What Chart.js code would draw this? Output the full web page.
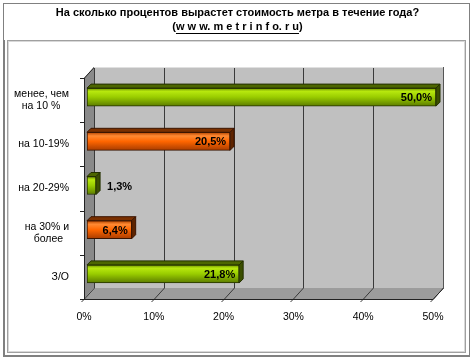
<!DOCTYPE html>
<html><head><meta charset="utf-8">
<script src="https://cdn.jsdelivr.net/npm/chart.js@4.4.1/dist/chart.umd.min.js"></script>
<style>html,body{margin:0;padding:0;background:#fff}canvas{display:block}</style>
</head><body>
<canvas id="c" width="475" height="361"></canvas>
<script>
const categories = [["менее, чем", "на 10 %   "], "на 10-19%", "на 20-29%", ["на 30% и", "более  "], "З/О"];
const values = [50.0, 20.5, 1.3, 6.4, 21.8];
const valueLabels = ["50,0%", "20,5%", "1,3%", "6,4%", "21,8%"];
const barKinds = ["green", "orange", "green", "orange", "green"];
const xMin = 0, xMax = 50, xStep = 10;
const titleLines = ["На сколько процентов вырастет стоимость метра в течение года?", "(w w w. m e t r i n f o. r u)"];

const FONT = "'Liberation Sans', Arial, sans-serif";
const PAL = {
  green: {stops: [[0, '#6a8c00'], [0.18, '#b8e80e'], [0.5, '#99cc00'], [1, '#5c7c00']], top: '#4d6600', side: '#3b4f00', border: '#243000'},
  orange: {stops: [[0, '#b34400'], [0.2, '#ff8a33'], [0.5, '#ff6600'], [1, '#a83c00']], top: '#7a3000', side: '#5e2400', border: '#3a1400'}
};
const FRONT = {dx: -3, dy: 3};   // front plane offset from bar face
const BACK = {dx: 7, dy: -8};    // back wall offset from bar face
const BD = 4;                    // bar depth

function barFill(ctx) {
  const chart = ctx.chart;
  const kind = PAL[barKinds[ctx.dataIndex]];
  const ys = chart.scales.y;
  if (!ys || ctx.type !== 'data') return kind.stops[2][1];
  const yc = ys.getPixelForValue(ctx.dataIndex);
  if (!isFinite(yc)) return kind.stops[2][1];
  const g = chart.ctx.createLinearGradient(0, yc - 9, 0, yc + 9);
  kind.stops.forEach(s => g.addColorStop(s[0], s[1]));
  return g;
}

const frame = {
  id: 'frame',
  beforeDraw(chart) {
    const c = chart.ctx;
    c.save();
    c.fillStyle = '#fff';
    c.fillRect(0, 0, chart.width, chart.height);
    c.strokeStyle = '#808080';
    c.lineWidth = 1;
    c.strokeRect(3.5, 3.5, 466, 353);
    c.fillStyle = '#808080';
    c.fillRect(3, 40, 2, 317);
    c.fillRect(3, 355, 467, 2);
    c.strokeStyle = '#a0a0a0';
    c.strokeRect(7.5, 40.5, 458, 312);
    c.strokeStyle = '#d8d8d8';
    c.strokeRect(8.5, 41.5, 456, 310);
    c.restore();
  },
  beforeDatasetsDraw(chart) {
    const c = chart.ctx, a = chart.chartArea, xs = chart.scales.x;
    const L = a.left, R = a.right, T = a.top, B = a.bottom;
    const fl = L + FRONT.dx, fr = R + FRONT.dx, ft = T + FRONT.dy, fb = B + FRONT.dy;
    const bl = L + BACK.dx, br = R + BACK.dx, bt = T + BACK.dy, bb = B + BACK.dy;
    c.save();
    c.fillStyle = '#c0c0c0';
    c.fillRect(bl, bt, br - bl, bb - bt);
    c.fillStyle = '#8a8a8a';
    c.beginPath(); c.moveTo(fl, ft); c.lineTo(bl, bt); c.lineTo(bl, bb); c.lineTo(fl, fb); c.closePath(); c.fill();
    c.fillStyle = '#9c9c9c';
    c.beginPath(); c.moveTo(fl, fb); c.lineTo(bl, bb); c.lineTo(br, bb); c.lineTo(fr, fb); c.closePath(); c.fill();
    c.strokeStyle = '#3a3a3a';
    c.lineWidth = 1;
    for (let v = xMin; v <= xMax; v += xStep) {
      const px = Math.round(xs.getPixelForValue(v));
      c.beginPath();
      c.moveTo(px + BACK.dx + 0.5, bt);
      c.lineTo(px + BACK.dx + 0.5, bb);
      c.lineTo(px + FRONT.dx + 0.5, fb);
      c.lineTo(px + FRONT.dx - 2.5, fb + 3);
      c.stroke();
    }
    c.strokeStyle = '#222';
    c.beginPath();
    c.moveTo(fl + 0.5, fb + 0.5); c.lineTo(fl + 0.5, ft); c.lineTo(bl + 0.5, bt);
    c.moveTo(fl, fb + 0.5); c.lineTo(fr, fb + 0.5); c.lineTo(br + 0.5, bb);
    c.stroke();
    c.strokeStyle = '#555';
    c.beginPath(); c.moveTo(br + 0.5, bt); c.lineTo(br + 0.5, bb); c.stroke();
    c.strokeStyle = '#e0e0e0';
    c.beginPath(); c.moveTo(bl, bt + 0.5); c.lineTo(br, bt + 0.5); c.stroke();
    c.strokeStyle = '#222';
    const n = categories.length;
    for (let i = 0; i <= n; i++) {
      const y = Math.round(ft + (fb - ft) * i / n) + 0.5;
      c.beginPath(); c.moveTo(fl - 4, y); c.lineTo(fl, y); c.stroke();
    }
    c.restore();
  },
  afterDatasetsDraw(chart) {
    const c = chart.ctx;
    const meta = chart.getDatasetMeta(0);
    c.save();
    meta.data.forEach((bar, i) => {
      const kind = PAL[barKinds[i]];
      const p = bar.getProps(['x', 'y', 'base', 'height'], true);
      const top = p.y - p.height / 2, bot = p.y + p.height / 2;
      c.lineWidth = 1;
      c.strokeStyle = kind.border;
      c.fillStyle = kind.top;
      c.beginPath();
      c.moveTo(p.base, top); c.lineTo(p.base + BD, top - BD); c.lineTo(p.x + BD, top - BD); c.lineTo(p.x, top); c.closePath();
      c.fill(); c.stroke();
      c.fillStyle = kind.side;
      c.beginPath();
      c.moveTo(p.x, top); c.lineTo(p.x + BD, top - BD); c.lineTo(p.x + BD, bot - BD); c.lineTo(p.x, bot); c.closePath();
      c.fill(); c.stroke();
      c.font = "bold 11px " + FONT;
      c.fillStyle = '#000';
      c.textBaseline = 'middle';
      const txt = valueLabels[i];
      const w = c.measureText(txt).width;
      if (p.x - p.base > w + 8) {
        c.textAlign = 'right';
        c.fillText(txt, p.x - 4, p.y + 1);
      } else {
        c.textAlign = 'left';
        c.fillText(txt, p.x + BD + 7, p.y + 1);
      }
    });
    c.restore();
  },
  afterDraw(chart) {
    const c = chart.ctx;
    c.save();
    c.font = "bold 11px " + FONT;
    const full = c.measureText(titleLines[1]).width;
    const inner = c.measureText(titleLines[1].slice(1, -1)).width;
    const pw = c.measureText('(').width;
    const x0 = chart.width / 2 - full / 2 + pw;
    c.strokeStyle = '#000';
    c.lineWidth = 1;
    c.beginPath(); c.moveTo(x0, 33.5); c.lineTo(x0 + inner, 33.5); c.stroke();
    c.restore();
  }
};

new Chart(document.getElementById('c'), {
  type: 'bar',
  data: {
    labels: categories,
    datasets: [{
      data: values,
      backgroundColor: barFill,
      borderColor: barKinds.map(k => PAL[k].border),
      borderWidth: 1,
      borderSkipped: false,
      barThickness: 18
    }]
  },
  options: {
    indexAxis: 'y',
    responsive: false,
    animation: false,
    events: [],
    layout: {padding: 0},
    plugins: {
      legend: {display: false},
      tooltip: {enabled: false},
      title: {
        display: true,
        text: titleLines,
        color: '#000',
        font: {family: FONT, size: 11, weight: 'bold', lineHeight: 14 / 11},
        padding: {top: 6, bottom: 41}
      }
    },
    scales: {
      x: {
        min: xMin, max: xMax,
        grid: {display: false, drawTicks: false},
        border: {display: false},
        ticks: {stepSize: xStep, color: '#000', font: {family: FONT, size: 10.5}, padding: 15, labelOffset: FRONT.dx, callback: v => v + '%', maxRotation: 0},
        afterFit: s => { s.height = 65; }
      },
      y: {
        grid: {display: false, drawTicks: false},
        border: {display: false},
        ticks: {color: '#000', font: {family: FONT, size: 10.5, lineHeight: 12 / 10.5}, padding: 18, labelOffset: FRONT.dy},
        afterFit: s => { s.width = 87; }
      },
      yRight: {
        type: 'category',
        axis: 'y',
        position: 'right',
        grid: {display: false, drawTicks: false},
        border: {display: false},
        ticks: {display: false},
        afterFit: s => { s.width = 39; }
      }
    }
  },
  plugins: [frame]
});
</script>
</body></html>
